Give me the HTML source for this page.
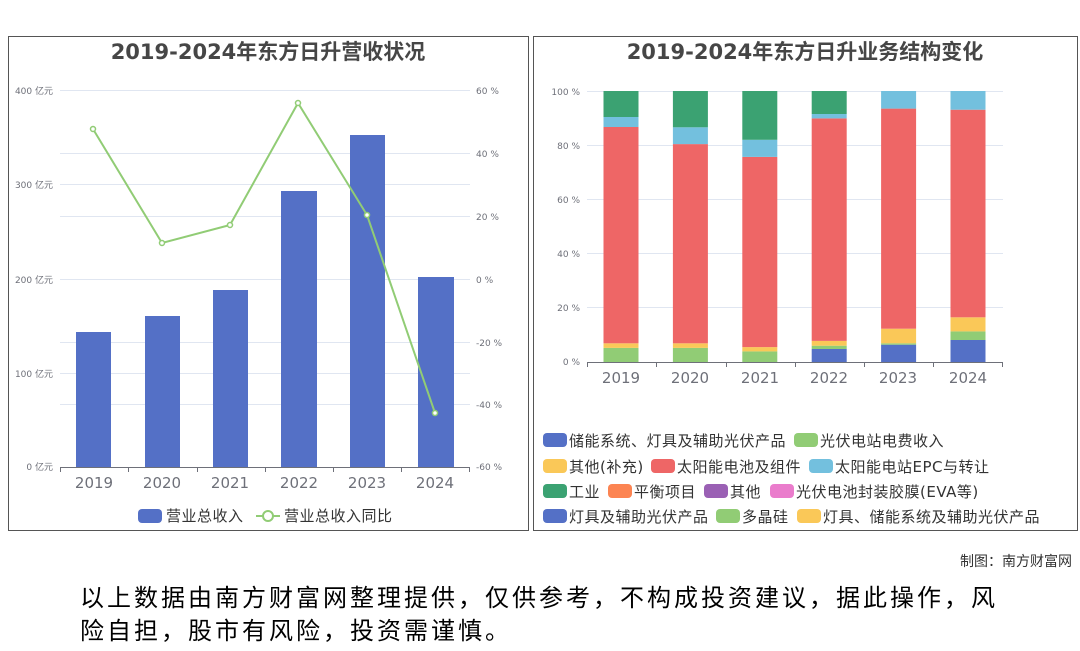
<!DOCTYPE html>
<html><head><meta charset="utf-8"><style>
body{margin:0;background:#fff;width:1080px;height:646px;overflow:hidden}
</style></head><body>
<svg width="1080" height="646" xmlns="http://www.w3.org/2000/svg" font-family="DejaVu Sans, Noto Sans CJK SC, sans-serif">
<rect x="8.5" y="36.5" width="520" height="494" fill="none" stroke="#555"/>
<rect x="533.5" y="36.5" width="544" height="494" fill="none" stroke="#555"/>
<text x="268" y="59" text-anchor="middle" font-size="21" font-weight="bold" fill="#464646">2019-2024年东方日升营收状况</text>
<text x="805" y="59" text-anchor="middle" font-size="21" font-weight="bold" fill="#464646">2019-2024年东方日升业务结构变化</text>
<g stroke="#e0e6f1" stroke-width="1">
<line x1="60" x2="470" y1="90.5" y2="90.5"/><line x1="60" x2="470" y1="153.5" y2="153.5"/><line x1="60" x2="470" y1="184.5" y2="184.5"/><line x1="60" x2="470" y1="216.5" y2="216.5"/><line x1="60" x2="470" y1="279.5" y2="279.5"/><line x1="60" x2="470" y1="342.5" y2="342.5"/><line x1="60" x2="470" y1="373.5" y2="373.5"/><line x1="60" x2="470" y1="404.5" y2="404.5"/>
</g>
<g font-size="9" fill="#6e7079" text-anchor="end">
<text x="53" y="94">400 亿元</text><text x="53" y="188">300 亿元</text><text x="53" y="283">200 亿元</text><text x="53" y="377">100 亿元</text><text x="53" y="470">0 亿元</text>
</g>
<g font-size="9" fill="#6e7079">
<text x="476" y="94">60 %</text><text x="476" y="157">40 %</text><text x="476" y="220">20 %</text><text x="476" y="283">0 %</text><text x="476" y="346">-20 %</text><text x="476" y="408">-40 %</text><text x="476" y="470">-60 %</text>
</g>
<g fill="#5470c6">
<rect x="76" y="332" width="35" height="135"/><rect x="145" y="316" width="35" height="151"/><rect x="213" y="290" width="35" height="177"/><rect x="281" y="191" width="36" height="276"/><rect x="350" y="135" width="35" height="332"/><rect x="418" y="277" width="36" height="190"/>
</g>
<line x1="60" x2="470" y1="467.5" y2="467.5" stroke="#6e7079"/>
<g stroke="#6e7079"><line x1="60.5" x2="60.5" y1="467" y2="472"/><line x1="128.5" x2="128.5" y1="467" y2="472"/><line x1="197.5" x2="197.5" y1="467" y2="472"/><line x1="265.5" x2="265.5" y1="467" y2="472"/><line x1="333.5" x2="333.5" y1="467" y2="472"/><line x1="401.5" x2="401.5" y1="467" y2="472"/><line x1="469.5" x2="469.5" y1="467" y2="472"/></g>
<g font-size="15" fill="#6e7079" text-anchor="middle">
<text x="94" y="488">2019</text><text x="162" y="488">2020</text><text x="230" y="488">2021</text><text x="299" y="488">2022</text><text x="367" y="488">2023</text><text x="435" y="488">2024</text>
</g>
<polyline points="93,129 162,243 230,225 298,103 367,215 435,413" fill="none" stroke="#91cc75" stroke-width="2"/>
<g fill="#fff" stroke="#91cc75" stroke-width="1.5">
<circle cx="93" cy="129" r="2.5"/><circle cx="162" cy="243" r="2.5"/><circle cx="230" cy="225" r="2.5"/><circle cx="298" cy="103" r="2.5"/><circle cx="367" cy="215" r="2.5"/><circle cx="435" cy="413" r="2.5"/>
</g>
<rect x="138" y="509" width="24" height="14" rx="4" fill="#5470c6"/>
<text x="166" y="521" font-size="15" fill="#333" letter-spacing="0.5">营业总收入</text>
<line x1="256" x2="280" y1="516" y2="516" stroke="#91cc75" stroke-width="2"/><circle cx="268" cy="516" r="5" fill="#fff" stroke="#91cc75" stroke-width="2"/>
<text x="284" y="521" font-size="15" fill="#333" letter-spacing="0.5">营业总收入同比</text>
<g stroke="#e0e6f1">
<line x1="587" x2="1003" y1="91.5" y2="91.5"/><line x1="587" x2="1003" y1="145.5" y2="145.5"/><line x1="587" x2="1003" y1="199.5" y2="199.5"/><line x1="587" x2="1003" y1="253.5" y2="253.5"/><line x1="587" x2="1003" y1="307.5" y2="307.5"/>
</g>
<g font-size="9" fill="#6e7079" text-anchor="end">
<text x="580" y="95">100 %</text><text x="580" y="149">80 %</text><text x="580" y="203">60 %</text><text x="580" y="257">40 %</text><text x="580" y="311">20 %</text><text x="580" y="365">0 %</text>
</g>
<g>
<rect x="603.5" y="347.9" width="35" height="14.1" fill="#91cc75"/><rect x="603.5" y="343.3" width="35" height="4.6" fill="#fac858"/><rect x="603.5" y="127" width="35" height="216.3" fill="#ee6666"/><rect x="603.5" y="117" width="35" height="10" fill="#73c0de"/><rect x="603.5" y="91" width="35" height="26" fill="#3ba272"/>
<rect x="672.9" y="347.9" width="35" height="14.1" fill="#91cc75"/><rect x="672.9" y="343.3" width="35" height="4.6" fill="#fac858"/><rect x="672.9" y="144.1" width="35" height="199.2" fill="#ee6666"/><rect x="672.9" y="127.3" width="35" height="16.8" fill="#73c0de"/><rect x="672.9" y="91" width="35" height="36.3" fill="#3ba272"/>
<rect x="742.3" y="351.4" width="35" height="10.6" fill="#91cc75"/><rect x="742.3" y="347.1" width="35" height="4.3" fill="#fac858"/><rect x="742.3" y="156.9" width="35" height="190.2" fill="#ee6666"/><rect x="742.3" y="139.8" width="35" height="17.1" fill="#73c0de"/><rect x="742.3" y="91" width="35" height="48.8" fill="#3ba272"/>
<rect x="811.7" y="349" width="35" height="13" fill="#5470c6"/><rect x="811.7" y="345.7" width="35" height="3.3" fill="#91cc75"/><rect x="811.7" y="340.9" width="35" height="4.8" fill="#fac858"/><rect x="811.7" y="118.4" width="35" height="222.5" fill="#ee6666"/><rect x="811.7" y="114" width="35" height="4.4" fill="#73c0de"/><rect x="811.7" y="91" width="35" height="23" fill="#3ba272"/>
<rect x="881.1" y="344.7" width="35" height="17.3" fill="#5470c6"/><rect x="881.1" y="343.3" width="35" height="1.4" fill="#91cc75"/><rect x="881.1" y="328.7" width="35" height="14.6" fill="#fac858"/><rect x="881.1" y="108.6" width="35" height="220.1" fill="#ee6666"/><rect x="881.1" y="91" width="35" height="17.6" fill="#73c0de"/>
<rect x="950.5" y="340" width="35" height="22" fill="#5470c6"/><rect x="950.5" y="331.4" width="35" height="8.6" fill="#91cc75"/><rect x="950.5" y="317.3" width="35" height="14.1" fill="#fac858"/><rect x="950.5" y="109.7" width="35" height="207.6" fill="#ee6666"/><rect x="950.5" y="91" width="35" height="18.7" fill="#73c0de"/>
</g>
<line x1="587" x2="1003" y1="362.5" y2="362.5" stroke="#6e7079"/>
<g stroke="#6e7079"><line x1="587.5" x2="587.5" y1="362" y2="367"/><line x1="656.5" x2="656.5" y1="362" y2="367"/><line x1="726.5" x2="726.5" y1="362" y2="367"/><line x1="795.5" x2="795.5" y1="362" y2="367"/><line x1="864.5" x2="864.5" y1="362" y2="367"/><line x1="933.5" x2="933.5" y1="362" y2="367"/><line x1="1002.5" x2="1002.5" y1="362" y2="367"/></g>
<g font-size="15" fill="#6e7079" text-anchor="middle">
<text x="621" y="383">2019</text><text x="690" y="383">2020</text><text x="760" y="383">2021</text><text x="829" y="383">2022</text><text x="898" y="383">2023</text><text x="968" y="383">2024</text>
</g>
<g font-size="15" fill="#333" letter-spacing="0.5">
<rect x="543" y="433" width="24" height="14" rx="4" fill="#5470c6"/><text x="569" y="446">储能系统、灯具及辅助光伏产品</text>
<rect x="794" y="433" width="24" height="14" rx="4" fill="#91cc75"/><text x="820" y="446">光伏电站电费收入</text>
<rect x="543" y="459" width="24" height="14" rx="4" fill="#fac858"/><text x="569" y="472">其他(补充)</text>
<rect x="651" y="459" width="24" height="14" rx="4" fill="#ee6666"/><text x="677" y="472">太阳能电池及组件</text>
<rect x="809" y="459" width="24" height="14" rx="4" fill="#73c0de"/><text x="835" y="472">太阳能电站EPC与转让</text>
<rect x="543" y="484" width="24" height="14" rx="4" fill="#3ba272"/><text x="569" y="497">工业</text>
<rect x="608" y="484" width="24" height="14" rx="4" fill="#fc8452"/><text x="634" y="497">平衡项目</text>
<rect x="704" y="484" width="24" height="14" rx="4" fill="#9a60b4"/><text x="730" y="497">其他</text>
<rect x="770" y="484" width="24" height="14" rx="4" fill="#ea7ccc"/><text x="796" y="497">光伏电池封装胶膜(EVA等)</text>
<rect x="543" y="509" width="24" height="14" rx="4" fill="#5470c6"/><text x="569" y="522">灯具及辅助光伏产品</text>
<rect x="716" y="509" width="24" height="14" rx="4" fill="#91cc75"/><text x="742" y="522">多晶硅</text>
<rect x="797" y="509" width="24" height="14" rx="4" fill="#fac858"/><text x="823" y="522">灯具、储能系统及辅助光伏产品</text>
</g>
<text x="1072" y="566" text-anchor="end" font-size="14" fill="#333">制图：南方财富网</text>
<text x="80" y="606" font-size="24" fill="#000" letter-spacing="3">以上数据由南方财富网整理提供，仅供参考，不构成投资建议，据此操作，风</text>
<text x="80" y="639" font-size="24" fill="#000" letter-spacing="3">险自担，股市有风险，投资需谨慎。</text>
</svg>
</body></html>
